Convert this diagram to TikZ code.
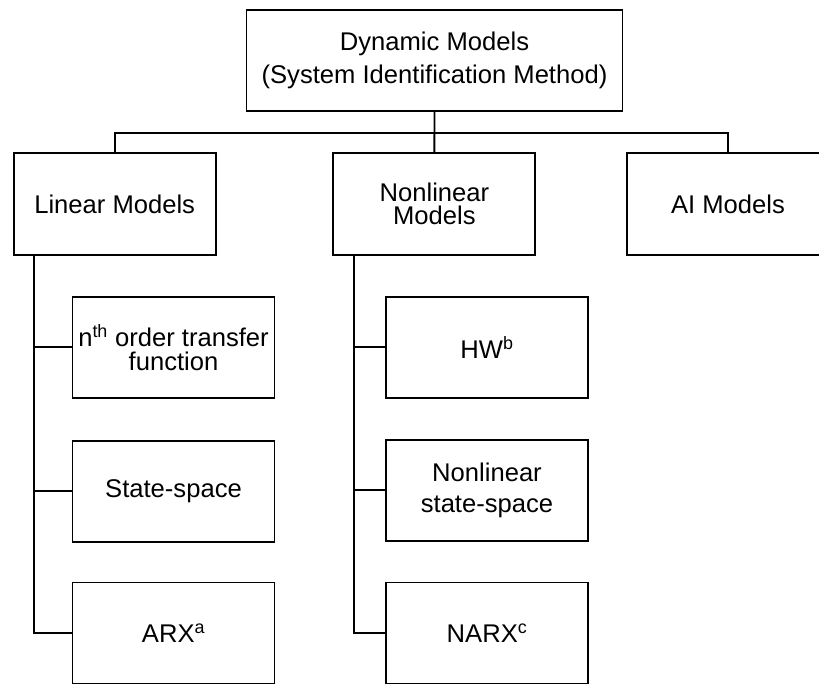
\documentclass[tikz,border=0pt]{standalone}
\usepackage{fontspec}
\setmainfont{Liberation Sans}
\usetikzlibrary{calc}
\begin{document}
\begin{tikzpicture}[x=1pt,y=-1pt,
  box/.style={draw=black, line width=1.9pt, rectangle, inner sep=0pt,
    minimum width=202pt, minimum height=101pt, align=center,
    font=\fontsize{25.6}{23.3}\selectfont},
  conn/.style={draw=black, line width=1.9pt}]
\useasboundingbox (0,0) rectangle (819,684);
\clip (0,0) rectangle (819,684);
% root
\node[box, minimum width=376pt, font=\fontsize{25.6}{33}\selectfont] (top) at (434.5,60.5) {Dynamic Models\\(System Identification Method)};
% level 1
\node[box, minimum height=102pt] (lin) at (114.7,204) {Linear Models};
\node[box, minimum height=102pt] (non) at (434.4,204) {Nonlinear\\Models};
\node[box, minimum height=102pt] (ai) at (728,204) {AI Models};
% linear children
\node[box, font=\fontsize{25.6}{24}\selectfont] (c1) at (173.5,347.2) {n\textsuperscript{th} order transfer\\function};
\node[box] (c2) at (173.5,491.3) {State-space};
\node[box] (c3) at (173.5,633) {ARX\textsuperscript{a}};
% nonlinear children
\node[box] (d1) at (487,347.2) {HW\textsuperscript{b}};
\node[box, font=\fontsize{25.6}{30.7}\selectfont] (d2) at (487,490.3) {Nonlinear\\state-space};
\node[box] (d3) at (487,633) {NARX\textsuperscript{c}};
% bus
\coordinate (bus) at (434.5,132.7);
\draw[conn] (top.south) -- (non.north);
\draw[conn] (lin.north) -- (lin.north |- bus) -- (ai.north |- bus) -- (ai.north);
% linear trunk
\coordinate (lt) at ($(lin.south west)+(21,0)$);
\draw[conn] (lt) -- (lt |- c3.west) -- (c3.west);
\draw[conn] (lt |- c1.west) -- (c1.west);
\draw[conn] (lt |- c2.west) -- (c2.west);
% nonlinear trunk
\coordinate (nt) at ($(non.south west)+(21.7,0)$);
\draw[conn] (nt) -- (nt |- d3.west) -- (d3.west);
\draw[conn] (nt |- d1.west) -- (d1.west);
\draw[conn] (nt |- d2.west) -- (d2.west);
\end{tikzpicture}
\end{document}
